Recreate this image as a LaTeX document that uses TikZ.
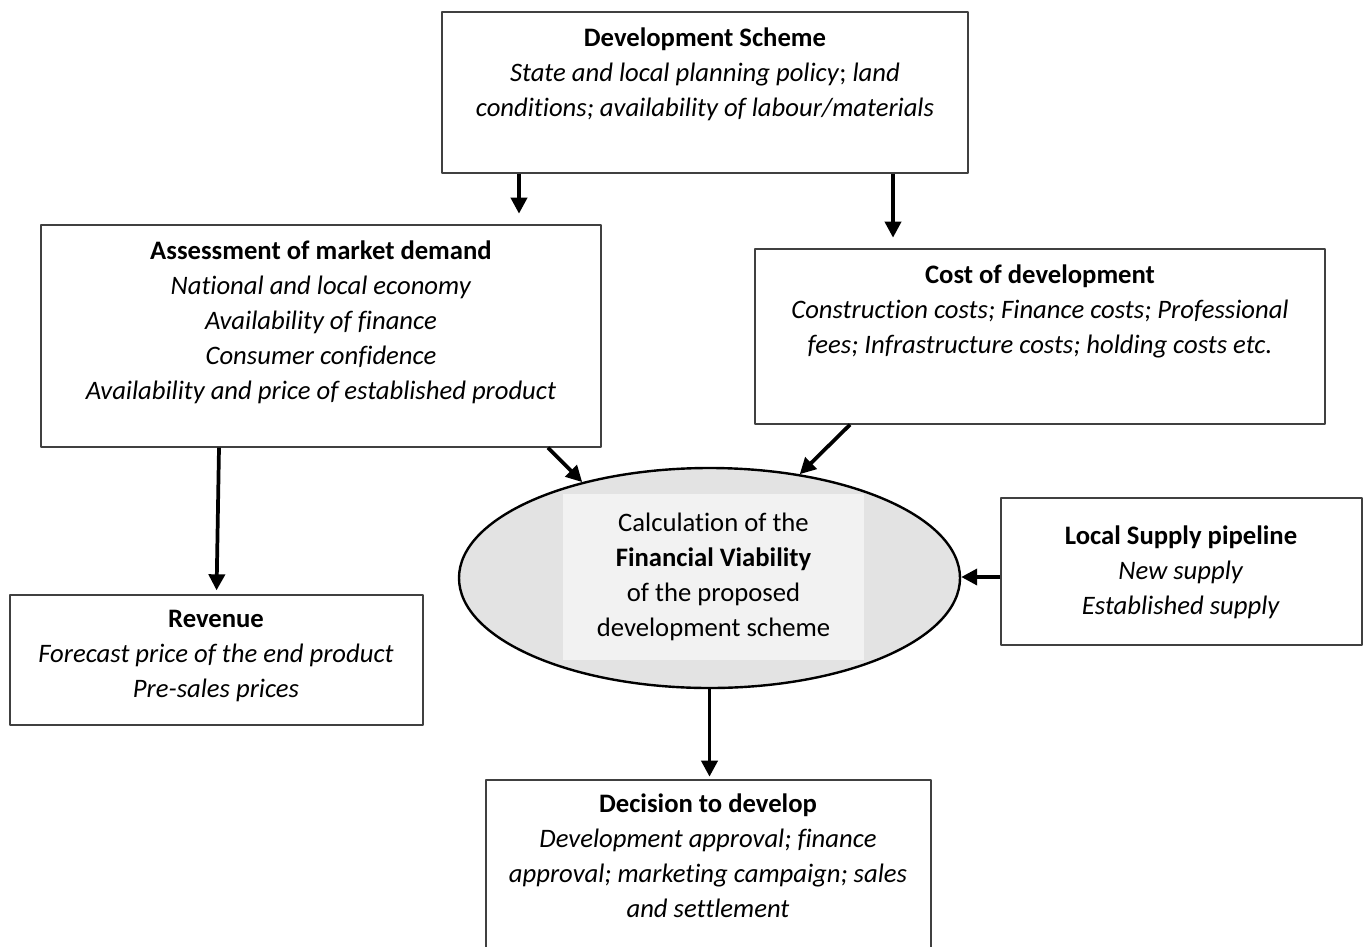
\documentclass[tikz,border=0pt]{standalone}
\usepackage{fontspec}
\setmainfont[Ligatures=NoCommon]{Carlito}
\usetikzlibrary{arrows.meta,shapes.geometric,calc}
\begin{document}
\begin{tikzpicture}[x=0.75pt,y=-0.75pt,>={Triangle[length=12pt,width=12pt]},
	font=\fontsize{20}{26.25}\selectfont, line join=round]
	\tikzset{box/.style={draw=black!75,line width=1pt,rectangle},
		txt/.style={align=center,inner sep=0pt},
		arr/.style={->,line width=2.8pt}}
	\useasboundingbox (0,0) rectangle (1370,946);
	% boxes
	\node[box,minimum width=394.5pt,minimum height=120.75pt] (ds) at (705,92.5) {};
	\node[box,minimum width=420pt,minimum height=166.5pt] (assess) at (321,336) {};
	\node[box,minimum width=427.5pt,minimum height=131.25pt] (cost) at (1040,336.5) {};
	\node[box,minimum width=270.75pt,minimum height=110.25pt] (supply) at (1181.5,571.5) {};
	\node[box,minimum width=309.75pt,minimum height=97.5pt] (revenue) at (216.5,660) {};
	\node[box,minimum width=333.75pt,minimum height=135pt] (decision) at (708.5,870) {};
	\node[ellipse,draw,line width=1.8pt,fill=black!11,minimum width=375.75pt,
		minimum height=165pt,inner sep=0pt] (viab) at (709.5,578) {};
	\node[fill=black!5,minimum width=225.75pt,minimum height=124.5pt,txt] (viabtxt) at (713.5,577)
		{Calculation of the\\\textbf{Financial Viability}\\of the proposed\\development scheme};
	% texts
	\node[txt] (dstxt) at (705,74) {\textbf{Development Scheme}\\
		\textit{State and local planning policy}; \textit{land}\\
		\textit{conditions; availability of labour/materials}};
	\node[txt] (assesstxt) at (321,322) {\textbf{Assessment of market demand}\\
		\textit{National and local economy}\\\textit{Availability of finance}\\
		\textit{Consumer confidence}\\\textit{Availability and price of established product}};
	\node[txt] (costtxt) at (1040,311) {\textbf{Cost of development}\\
		\textit{Construction costs; Finance costs; Professional}\\
		\textit{fees; Infrastructure costs; holding costs etc.}};
	\node[txt] (supplytxt) at (1181,572) {\textbf{Local Supply pipeline}\\
		\textit{New supply}\\\textit{Established supply}};
	\node[txt] (revenuetxt) at (216,656) {\textbf{Revenue}\\
		\textit{Forecast price of the end product}\\\textit{Pre-sales prices}};
	\node[txt] (decisiontxt) at (708,856) {\textbf{Decision to develop}\\
		\textit{Development approval; finance}\\\textit{approval; marketing campaign; sales}\\
		\textit{and settlement}};
	% arrows
	\draw[arr,shorten >=8] ($(ds.south)+(-186,0)$) -- ($(assess.north)+(198,0)$);
	\draw[arr,shorten >=8] ($(ds.south)+(188,0)$) -- ($(cost.north)+(-147,0)$);
	\draw[arr] ($(assess.south)+(227,0)$) -- (viab.143);
	\draw[arr] ($(cost.south)+(-190,0)$) -- (viab.49);
	\draw[arr,shorten >=3] ($(assess.south)+(-102,0)$) -- ($(revenue.north)+(0,0)$);
	\draw[arr] (supply.west |- 0,577) -- (viab.east |- 0,577);
	\draw[arr,shorten >=2] (viab.south) -- (viab.south |- decision.north);
\end{tikzpicture}
\end{document}
